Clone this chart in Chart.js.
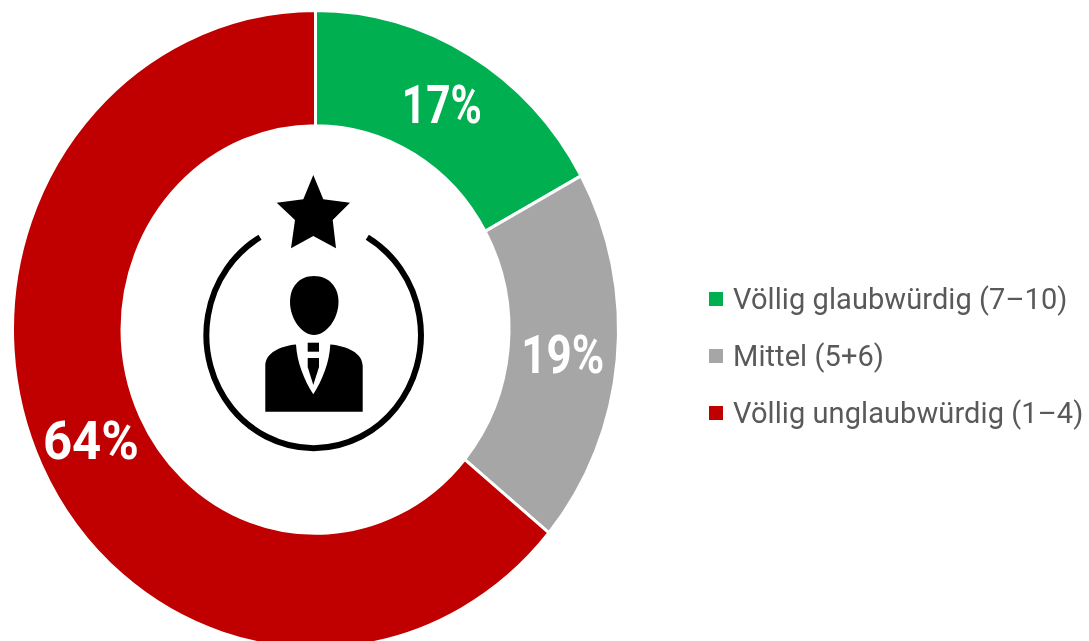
<!DOCTYPE html>
<html lang="de">
<head>
<meta charset="utf-8">
<title>Glaubwürdigkeit</title>
<script src="https://cdn.jsdelivr.net/npm/chart.js@4"></script>
<style>
  html, body { margin: 0; padding: 0; background: #fff; }
  #wrap { position: relative; width: 1089px; height: 641px; overflow: hidden; }
  #chart { position: absolute; left: 0; top: 0; }
  #icon { position: absolute; left: 0; top: 0; }
  #legend { position: absolute; left: 709px; top: 270px; list-style: none; margin: 0; padding: 0; }
  #legend li { display: flex; align-items: center; height: 57px; color: #595959; font: 29px Roboto, sans-serif; letter-spacing: 0.08px; white-space: nowrap; }
  #legend i { width: 14px; height: 14px; margin-right: 10px; flex: none; }
</style>
</head>
<body>
<div id="wrap">
  <canvas id="chart" width="1089" height="641"></canvas>
  <svg id="icon" width="1089" height="641" viewBox="0 0 1089 641">
    <!-- ring -->
    <path d="M260 237.3 A107.3 113 0 1 0 367.3 237.3" fill="none" stroke="#000" stroke-width="6"/>
    <!-- star -->
    <polygon points="313.3,175 323.3,199.3 350,202.7 332.7,220 336,248.3 313.3,236 291,248.3 295,220 276.7,202.7 303.3,199.3"/>
    <!-- head -->
    <path d="M314 276 C329 276 338.5 287 338.5 302 C338.5 319 326 335 314 335 C302 335 290 319 290 302 C290 287 299 276 314 276 Z"/>
    <!-- body -->
    <path d="M265.3 411.7 L265.3 366 C265.3 353 280 346 296 344.5 C297 362 304 380 313.3 394.3 C322.5 380 329.5 362 330.3 344.5 C347 346 362.7 353 362.7 366 L362.7 411.7 Z"/>
    <!-- tie -->
    <rect x="307.7" y="342.7" width="11.3" height="9"/>
    <polygon points="307.7,358 319,358 319,367 313.3,385 307.7,367"/>
  </svg>
  <ul id="legend"></ul>
</div>
<script>
const categories = ['Völlig glaubwürdig (7–10)', 'Mittel (5+6)', 'Völlig unglaubwürdig (1–4)'];
const values = [17, 19, 64];
const colors = ['#00B050', '#A6A6A6', '#C00000'];

// The source picture is slightly stretched vertically
const stretchY = 1.053;
// Widest the percent labels get, the original font has a narrower "1"
const labelMaxWidths = [80, 83, 96];

const legend = document.getElementById('legend');
categories.forEach((name, i) => {
  const li = document.createElement('li');
  const box = document.createElement('i');
  box.style.background = colors[i];
  li.appendChild(box);
  li.appendChild(document.createTextNode(name));
  legend.appendChild(li);
});

const stretchPlugin = {
  id: 'stretch',
  beforeDatasetsDraw(chart) {
    const arc = chart.getDatasetMeta(0).data[0];
    const ctx = chart.ctx;
    ctx.save();
    ctx.translate(arc.x, arc.y);
    ctx.scale(1, stretchY);
    ctx.translate(-arc.x, -arc.y);
  },
  afterDatasetsDraw(chart) {
    const ctx = chart.ctx;
    // Percent labels stay inside the stretched context, like the rest of the ring
    ctx.fillStyle = '#fff';
    ctx.font = '700 51px Roboto, sans-serif';
    ctx.textAlign = 'center';
    ctx.textBaseline = 'middle';
    chart.getDatasetMeta(0).data.forEach((arc, i) => {
      const p = arc.getCenterPoint();
      ctx.fillText(values[i] + '%', p.x, p.y + 5, labelMaxWidths[i]);
    });
    ctx.restore();
  }
};

new Chart(document.getElementById('chart').getContext('2d'), {
  type: 'doughnut',
  data: {
    labels: categories,
    datasets: [{
      data: values,
      backgroundColor: colors,
      borderColor: '#fff',
      borderWidth: 3
    }]
  },
  options: {
    responsive: false,
    animation: false,
    cutout: 193.5,
    layout: { padding: { left: 11, right: 469, top: 25, bottom: 7 } },
    plugins: {
      legend: { display: false },
      tooltip: { enabled: false }
    }
  },
  plugins: [stretchPlugin]
});
</script>
</body>
</html>
